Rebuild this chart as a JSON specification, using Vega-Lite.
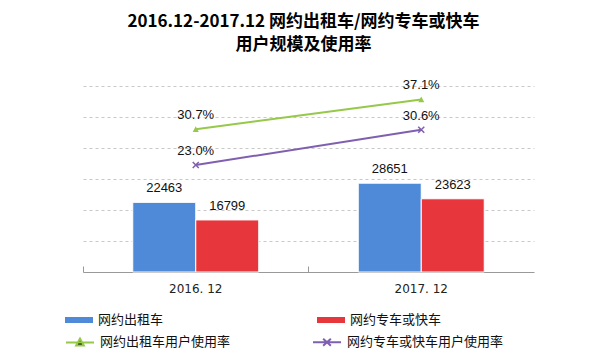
{
  "$schema": "https://vega.github.io/schema/vega-lite/v6.json",
  "width": 451,
  "height": 186,
  "autosize": {"type": "none"},
  "padding": {"left": 83, "top": 86, "right": 66, "bottom": 89},
  "background": "white",
  "title": {
    "text": ["2016.12-2017.12 网约出租车/网约专车或快车", "用户规模及使用率"],
    "font": "Noto Sans CJK SC",
    "fontSize": 17,
    "fontWeight": "bold",
    "color": "#000000",
    "lineHeight": 23,
    "anchor": "middle",
    "dx": -5,
    "offset": 25
  },
  "config": {
    "view": {"stroke": null},
    "legend": {"labelFont": "Noto Sans CJK SC"}
  },
  "datasets": {
    "bars": [
      {"period": "2016. 12", "series": "网约出租车", "users": 22463},
      {"period": "2016. 12", "series": "网约专车或快车", "users": 16799},
      {"period": "2017. 12", "series": "网约出租车", "users": 28651},
      {"period": "2017. 12", "series": "网约专车或快车", "users": 23623}
    ],
    "rates": [
      {"period": "2016. 12", "series": "网约出租车用户使用率", "rate": 0.307, "label": "30.7%"},
      {"period": "2017. 12", "series": "网约出租车用户使用率", "rate": 0.371, "label": "37.1%"},
      {"period": "2016. 12", "series": "网约专车或快车用户使用率", "rate": 0.230, "label": "23.0%"},
      {"period": "2017. 12", "series": "网约专车或快车用户使用率", "rate": 0.306, "label": "30.6%"}
    ]
  },
  "encoding": {
    "x": {
      "field": "period",
      "type": "nominal",
      "sort": ["2016. 12", "2017. 12"],
      "scale": {"paddingInner": 0, "paddingOuter": 0},
      "axis": {
        "title": null,
        "labelAngle": 0,
        "labelFont": "DejaVu Sans",
        "labelFontSize": 12,
        "labelColor": "#222222",
        "labelPadding": 17,
        "domainColor": "#999999",
        "tickColor": "#999999",
        "bandPosition": 0,
        "tickSize": -6,
        "grid": false
      }
    }
  },
  "layer": [
    {
      "data": {"name": "bars"},
      "layer": [
        {
          "mark": {"type": "bar", "stroke": "#ffffff", "strokeWidth": 1},
          "encoding": {
            "xOffset": {"field": "series", "type": "nominal", "sort": ["网约出租车", "网约专车或快车"], "scale": {"paddingInner": 0, "paddingOuter": 0.79}},
            "y": {
              "field": "users",
              "type": "quantitative",
              "scale": {"domain": [0, 60000], "nice": false},
              "axis": {
                "title": null,
                "labels": false,
                "ticks": false,
                "domain": false,
                "grid": true,
                "tickCount": 12,
                "values": [10000, 20000, 30000, 40000, 50000, 60000],
                "gridDash": [3, 3],
                "gridColor": "#c8c8c8"
              }
            },
            "color": {
              "field": "series",
              "type": "nominal",
              "scale": {
                "domain": ["网约出租车", "网约专车或快车"],
                "range": ["#4E8AD8", "#E8373C"]
              },
              "legend": {
                "title": null,
                "orient": "none",
                "legendX": -18,
                "legendY": 227,
                "direction": "horizontal",
                "columns": 2,
                "columnPadding": 153,
                "symbolType": "M-1,-0.43H3V0.43H-1Z",
                "symbolSize": 196,
                "symbolStrokeWidth": 0,
                "labelFontSize": 13,
                "labelColor": "#111111",
                "labelOffset": 19,
                "labelLimit": 300
              }
            }
          }
        },
        {
          "mark": {"type": "text", "dy": -14, "font": "Liberation Sans", "fontSize": 13, "color": "#111111"},
          "encoding": {
            "xOffset": {"field": "series", "type": "nominal", "sort": ["网约出租车", "网约专车或快车"], "scale": {"paddingInner": 0, "paddingOuter": 0.79}},
            "y": {"field": "users", "type": "quantitative"},
            "text": {"field": "users", "type": "quantitative", "format": "d"}
          }
        }
      ]
    },
    {
      "data": {"name": "rates"},
      "layer": [
        {
          "mark": {"type": "line", "strokeWidth": 2},
          "encoding": {
            "y": {"field": "rate", "type": "quantitative", "scale": {"domain": [0, 0.4], "nice": false}, "axis": null},
            "color": {
              "field": "series",
              "type": "nominal",
              "scale": {
                "domain": ["网约出租车用户使用率", "网约专车或快车用户使用率"],
                "range": ["#96C84A", "#7F5FB0"]
              },
              "legend": null
            }
          }
        },
        {
          "transform": [{"filter": "datum.series === '网约出租车用户使用率'"}],
          "mark": {"type": "point", "filled": true, "size": 45, "shape": "M-0.9,0.8L0,-0.9L0.9,0.8Z", "opacity": 1},
          "encoding": {
            "y": {"field": "rate", "type": "quantitative"},
            "color": {"field": "series", "type": "nominal", "legend": null}
          }
        },
        {
          "transform": [{"filter": "datum.series === '网约专车或快车用户使用率'"}],
          "mark": {"type": "point", "filled": false, "size": 45, "strokeWidth": 1.5, "shape": "M-0.9,-0.9L0.9,0.9M-0.9,0.9L0.9,-0.9", "opacity": 1},
          "encoding": {
            "y": {"field": "rate", "type": "quantitative"},
            "color": {"field": "series", "type": "nominal", "legend": null}
          }
        },
        {
          "mark": {"type": "point", "filled": true, "opacity": 0},
          "encoding": {
            "y": {"field": "rate", "type": "quantitative"},
            "color": {
              "field": "series",
              "type": "nominal",
              "legend": {
                "title": null,
                "orient": "none",
                "legendX": -18,
                "legendY": 248,
                "direction": "horizontal",
                "columns": 2,
                "columnPadding": 78,
                "symbolSize": 196,
                "symbolOpacity": 1,
                "symbolStrokeWidth": 2,
                "labelFontSize": 13,
                "labelColor": "#111111",
                "labelOffset": 19,
                "labelLimit": 300
              }
            },
            "shape": {
              "field": "series",
              "type": "nominal",
              "scale": {
                "domain": ["网约出租车用户使用率", "网约专车或快车用户使用率"],
                "range": ["M-1,0H3M0.45,0.45L1,-0.55L1.55,0.45Z", "M-1,0H3M0.45,-0.5L1.55,0.5M0.45,0.5L1.55,-0.5"]
              },
              "legend": {
                "title": null,
                "orient": "none",
                "legendX": -18,
                "legendY": 248,
                "direction": "horizontal",
                "columns": 2,
                "columnPadding": 78,
                "symbolSize": 196,
                "symbolOpacity": 1,
                "symbolStrokeWidth": 2,
                "labelFontSize": 13,
                "labelColor": "#111111",
                "labelOffset": 19,
                "labelLimit": 300
              }
            },
            "stroke": {
              "field": "series",
              "type": "nominal",
              "scale": {
                "domain": ["网约出租车用户使用率", "网约专车或快车用户使用率"],
                "range": ["#96C84A", "#7F5FB0"]
              },
              "legend": {
                "title": null,
                "orient": "none",
                "legendX": -18,
                "legendY": 248,
                "direction": "horizontal",
                "columns": 2,
                "columnPadding": 78,
                "symbolSize": 196,
                "symbolOpacity": 1,
                "symbolStrokeWidth": 2,
                "labelFontSize": 13,
                "labelColor": "#111111",
                "labelOffset": 19,
                "labelLimit": 300
              }
            }
          }
        },
        {
          "mark": {"type": "text", "dy": -14, "font": "Liberation Sans", "fontSize": 13, "color": "#111111"},
          "encoding": {
            "y": {"field": "rate", "type": "quantitative"},
            "text": {"field": "label", "type": "nominal"}
          }
        }
      ]
    }
  ],
  "resolve": {"scale": {"y": "independent", "color": "independent"}}
}
